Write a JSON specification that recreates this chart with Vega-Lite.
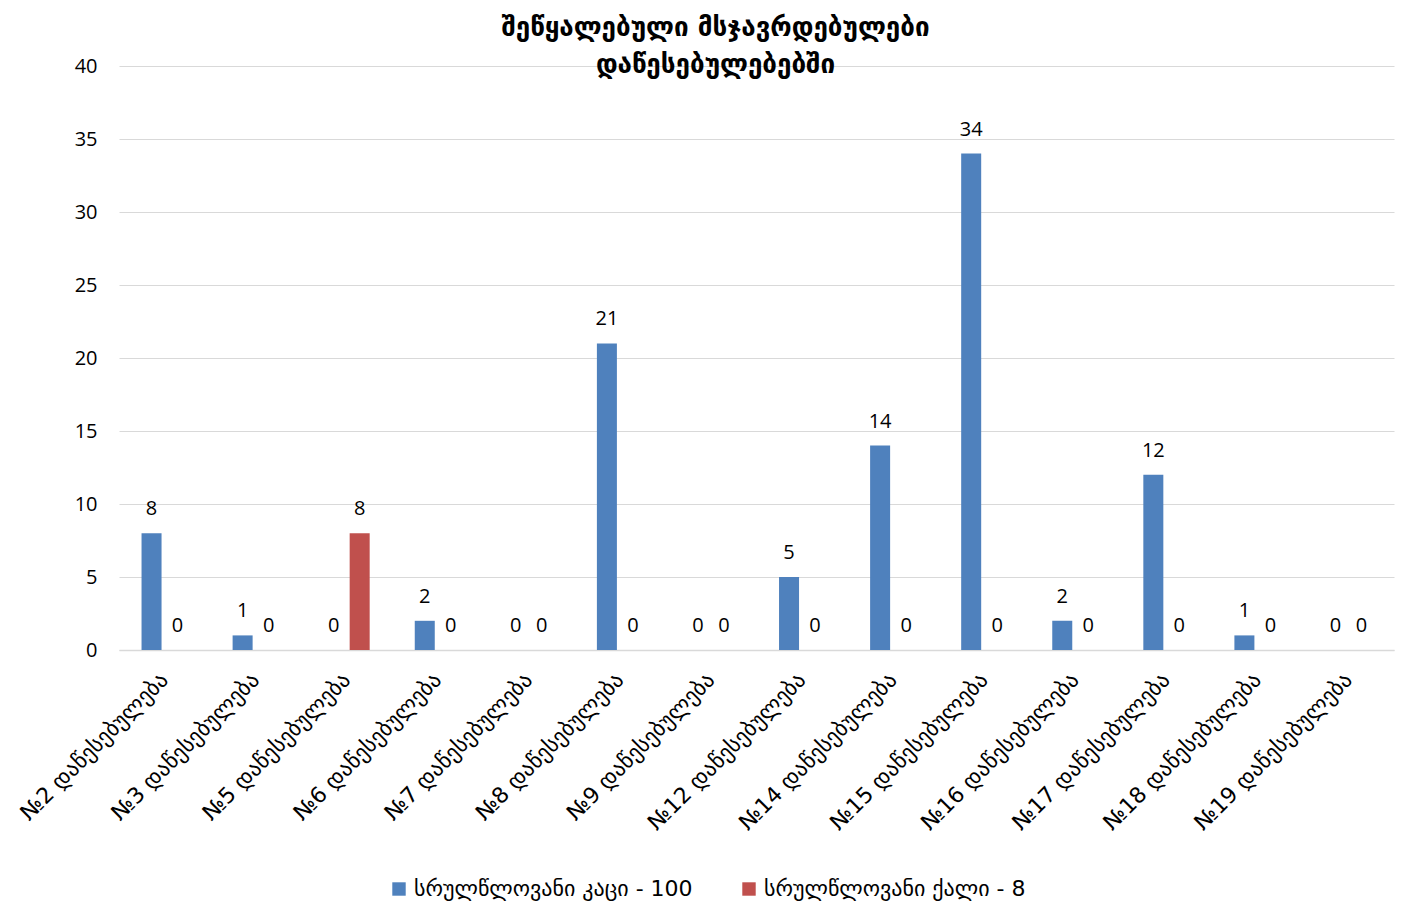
{
  "$schema": "https://vega.github.io/schema/vega-lite/v6.json",
  "autosize": {"type": "none"},
  "padding": {"left": 119, "top": 66, "right": 10, "bottom": 252},
  "width": 1275,
  "height": 584,
  "background": "white",
  "config": {
    "font": "Open Sans, DejaVu Sans",
    "view": {"stroke": null}
  },
  "title": {
    "text": ["შეწყალებული მსჯავრდებულები", "დაწესებულებებში"],
    "fontSize": 26,
    "fontWeight": "bold",
    "font": "DejaVu Sans",
    "color": "#000000",
    "anchor": "middle",
    "offset": -22,
    "dx": -41,
    "lineHeight": 37
  },
  "data": {
    "values": [
      {"inst": "№2  დაწესებულება", "series": "სრულწლოვანი  კაცი - 100", "value": 8},
      {"inst": "№2  დაწესებულება", "series": "სრულწლოვანი ქალი - 8", "value": 0},
      {"inst": "№3  დაწესებულება", "series": "სრულწლოვანი  კაცი - 100", "value": 1},
      {"inst": "№3  დაწესებულება", "series": "სრულწლოვანი ქალი - 8", "value": 0},
      {"inst": "№5  დაწესებულება", "series": "სრულწლოვანი  კაცი - 100", "value": 0},
      {"inst": "№5  დაწესებულება", "series": "სრულწლოვანი ქალი - 8", "value": 8},
      {"inst": "№6  დაწესებულება", "series": "სრულწლოვანი  კაცი - 100", "value": 2},
      {"inst": "№6  დაწესებულება", "series": "სრულწლოვანი ქალი - 8", "value": 0},
      {"inst": "№7 დაწესებულება", "series": "სრულწლოვანი  კაცი - 100", "value": 0},
      {"inst": "№7 დაწესებულება", "series": "სრულწლოვანი ქალი - 8", "value": 0},
      {"inst": "№8 დაწესებულება", "series": "სრულწლოვანი  კაცი - 100", "value": 21},
      {"inst": "№8 დაწესებულება", "series": "სრულწლოვანი ქალი - 8", "value": 0},
      {"inst": "№9 დაწესებულება", "series": "სრულწლოვანი  კაცი - 100", "value": 0},
      {"inst": "№9 დაწესებულება", "series": "სრულწლოვანი ქალი - 8", "value": 0},
      {"inst": "№12 დაწესებულება", "series": "სრულწლოვანი  კაცი - 100", "value": 5},
      {"inst": "№12 დაწესებულება", "series": "სრულწლოვანი ქალი - 8", "value": 0},
      {"inst": "№14 დაწესებულება", "series": "სრულწლოვანი  კაცი - 100", "value": 14},
      {"inst": "№14 დაწესებულება", "series": "სრულწლოვანი ქალი - 8", "value": 0},
      {"inst": "№15 დაწესებულება", "series": "სრულწლოვანი  კაცი - 100", "value": 34},
      {"inst": "№15 დაწესებულება", "series": "სრულწლოვანი ქალი - 8", "value": 0},
      {"inst": "№16 დაწესებულება", "series": "სრულწლოვანი  კაცი - 100", "value": 2},
      {"inst": "№16 დაწესებულება", "series": "სრულწლოვანი ქალი - 8", "value": 0},
      {"inst": "№17 დაწესებულება", "series": "სრულწლოვანი  კაცი - 100", "value": 12},
      {"inst": "№17 დაწესებულება", "series": "სრულწლოვანი ქალი - 8", "value": 0},
      {"inst": "№18 დაწესებულება", "series": "სრულწლოვანი  კაცი - 100", "value": 1},
      {"inst": "№18 დაწესებულება", "series": "სრულწლოვანი ქალი - 8", "value": 0},
      {"inst": "№19 დაწესებულება", "series": "სრულწლოვანი  კაცი - 100", "value": 0},
      {"inst": "№19 დაწესებულება", "series": "სრულწლოვანი ქალი - 8", "value": 0}
    ]
  },
  "encoding": {
    "x": {
      "field": "inst",
      "type": "nominal",
      "sort": null,
      "title": null,
      "scale": {"paddingInner": 0.495, "paddingOuter": 0.2475},
      "axis": {
        "labelAngle": -45,
        "labelAlign": "right",
        "labelBaseline": "middle",
        "labelFontSize": 22,
        "labelColor": "#000000",
        "labelFont": "DejaVu Sans",
        "labelPadding": 26,
        "labelLimit": 0,
        "ticks": false,
        "domainColor": "#D9D9D9",
        "domainWidth": 1.5,
        "grid": false
      }
    },
    "xOffset": {"field": "series", "type": "nominal", "sort": null, "scale": {"paddingInner": 0.23}},
    "y": {
      "field": "value",
      "type": "quantitative",
      "title": null,
      "scale": {"domain": [0, 40], "nice": false},
      "axis": {
        "values": [0, 5, 10, 15, 20, 25, 30, 35, 40],
        "labelFontSize": 20,
        "labelColor": "#000000",
        "labelPadding": 22,
        "ticks": false,
        "domain": false,
        "gridColor": "#D9D9D9",
        "gridWidth": 1.2
      }
    }
  },
  "layer": [
    {
      "mark": {"type": "bar"},
      "encoding": {
        "color": {
          "field": "series",
          "type": "nominal",
          "sort": null,
          "scale": {"range": ["#4F81BD", "#C0504D"]},
          "legend": {
            "title": null,
            "orient": "none",
            "direction": "horizontal",
            "legendX": 269,
            "legendY": 812,
            "symbolType": "square",
            "symbolSize": 180,
            "symbolStrokeWidth": 0,
            "labelFontSize": 22,
            "labelLimit": 0,
            "labelColor": "#000000",
            "labelFont": "DejaVu Sans",
            "columnPadding": 38,
            "labelOffset": 4
          }
        }
      }
    },
    {
      "mark": {"type": "text", "fontSize": 20, "color": "#000000", "baseline": "alphabetic", "dy": -18},
      "encoding": {
        "text": {"field": "value", "type": "quantitative"}
      }
    }
  ]
}
